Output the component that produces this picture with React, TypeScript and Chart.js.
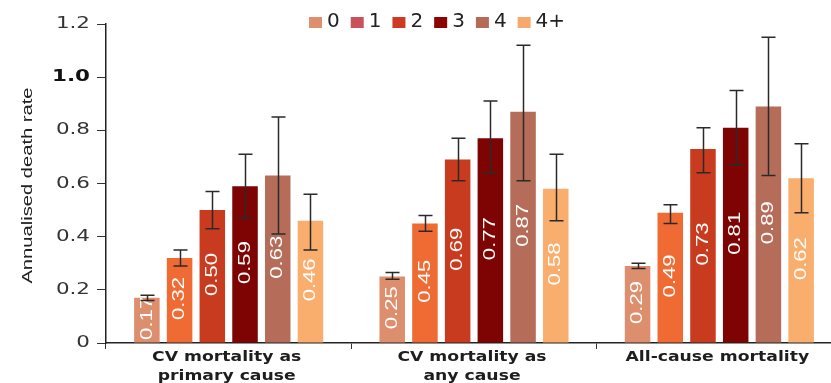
import React, { useEffect, useRef } from "react";
import { Chart, registerables } from "chart.js";
Chart.register(...registerables);

const categories: string[][] = [
  ["CV mortality as", "primary cause"],
  ["CV mortality as", "any cause"],
  ["All-cause mortality"],
];
const seriesNames = ["0", "1", "2", "3", "4", "4+"];
const barColors = ["#dd8e6d", "#f06b34", "#c93b1f", "#7e0404", "#b56d5a", "#f9ae6d"];
const legendColors = ["#de8f6d", "#c9515a", "#cf3a22", "#8a0404", "#b46a55", "#f6a96a"];

const values0 = [0.17, 0.25, 0.29];
const values1 = [0.32, 0.45, 0.49];
const values2 = [0.5, 0.69, 0.73];
const values3 = [0.59, 0.77, 0.81];
const values4 = [0.63, 0.87, 0.89];
const values4p = [0.46, 0.58, 0.62];

const low0 = [0.16, 0.24, 0.28];
const high0 = [0.18, 0.265, 0.3];
const low1 = [0.29, 0.42, 0.45];
const high1 = [0.35, 0.48, 0.52];
const low2 = [0.43, 0.61, 0.64];
const high2 = [0.57, 0.77, 0.81];
const low3 = [0.47, 0.64, 0.67];
const high3 = [0.71, 0.91, 0.95];
const low4 = [0.41, 0.61, 0.63];
const high4 = [0.85, 1.12, 1.15];
const low4p = [0.35, 0.46, 0.49];
const high4p = [0.56, 0.71, 0.75];

const yTickValues = [0, 0.2, 0.4, 0.6, 0.8, 1.0, 1.2];
const yTickLabels = ["0", "0.2", "0.4", "0.6", "0.8", "1.0", "1.2"];
const yTitle = "Annualised death rate";

const seriesValues = [values0, values1, values2, values3, values4, values4p];
const seriesLow = [low0, low1, low2, low3, low4, low4p];
const seriesHigh = [high0, high1, high2, high3, high4, high4p];

function drawText(
  ctx: CanvasRenderingContext2D,
  text: string,
  x: number,
  y: number,
  font: string,
  color: string,
  sx: number,
  sy: number,
  rot: number,
  align: CanvasTextAlign,
  baseline: CanvasTextBaseline
) {
  ctx.save();
  ctx.translate(x, y);
  ctx.rotate(rot);
  ctx.scale(sx, sy);
  ctx.font = font;
  ctx.fillStyle = color;
  ctx.textAlign = align;
  ctx.textBaseline = baseline;
  ctx.fillText(text, 0, 0);
  ctx.restore();
}

const decorPlugin = {
  id: "decor",
  afterDatasetsDraw(chart: any) {
    const ctx: CanvasRenderingContext2D = chart.ctx;
    const yScale = chart.scales.y;
    const xScale = chart.scales.x;
    const area = chart.chartArea;

    // value labels inside bars
    chart.data.datasets.forEach((ds: any, i: number) => {
      const meta = chart.getDatasetMeta(i);
      meta.data.forEach((bar: any, j: number) => {
        const v = ds.data[j];
        const top = yScale.getPixelForValue(v);
        const base = yScale.getPixelForValue(0);
        const cy = (top + base) / 2 - 2;
        drawText(ctx, v.toFixed(2), bar.x, cy, "17px 'Liberation Sans', Arial, sans-serif", "#ffffff", 1.3, 1, -Math.PI / 2, "center", "middle");
      });
    });

    // error bars
    ctx.save();
    ctx.strokeStyle = "#2a2a2a";
    ctx.lineWidth = 1.5;
    chart.data.datasets.forEach((_ds: any, i: number) => {
      const meta = chart.getDatasetMeta(i);
      meta.data.forEach((bar: any, j: number) => {
        const yl = yScale.getPixelForValue(seriesLow[i][j]);
        const yh = yScale.getPixelForValue(seriesHigh[i][j]);
        const x = Math.round(bar.x) + 0.5;
        const cw = 7;
        ctx.beginPath();
        ctx.moveTo(x, yl);
        ctx.lineTo(x, yh);
        ctx.moveTo(x - cw, yh);
        ctx.lineTo(x + cw, yh);
        ctx.moveTo(x - cw, yl);
        ctx.lineTo(x + cw, yl);
        ctx.stroke();
      });
    });
    ctx.restore();

    // y tick labels
    yTickValues.forEach((v, k) => {
      const y = yScale.getPixelForValue(v);
      const bold = yTickLabels[k] === "1.0";
      drawText(
        ctx,
        yTickLabels[k],
        area.left - 16,
        y,
        (bold ? "bold " : "") + "16px 'DejaVu Sans', Verdana, sans-serif",
        bold ? "#111111" : "#333333",
        1.34,
        1,
        0,
        "right",
        "middle"
      );
    });

    // y axis title
    drawText(ctx, yTitle, 28, (area.top + area.bottom) / 2 + 2, "14px 'Liberation Sans', Arial, sans-serif", "#222222", 1.44, 1, -Math.PI / 2, "center", "middle");

    // x category labels
    categories.forEach((lines, k) => {
      const cx = xScale.getPixelForValue(k);
      lines.forEach((line, li) => {
        drawText(ctx, line, cx - 2, area.bottom + 18 + li * 19, "bold 14px 'DejaVu Sans', Verdana, sans-serif", "#1e1e1e", 1.23, 1, 0, "center", "alphabetic");
      });
    });

    // legend
    let lx = 309;
    ctx.save();
    ctx.font = "20px 'DejaVu Sans', Verdana, sans-serif";
    seriesNames.forEach((name, i) => {
      ctx.fillStyle = legendColors[i];
      ctx.fillRect(lx, 17, 13, 11);
      ctx.fillStyle = "#222222";
      ctx.textAlign = "left";
      ctx.textBaseline = "alphabetic";
      ctx.fillText(name, lx + 18, 27);
      lx += 13 + 5 + ctx.measureText(name).width + 11;
    });
    ctx.restore();
  },
};

export default function App() {
  const canvasRef = useRef<HTMLCanvasElement>(null);

  useEffect(() => {
    const canvas = canvasRef.current;
    if (!canvas) return;
    const chart = new Chart(canvas, {
      type: "bar",
      data: {
        labels: categories.map((c) => c.join(" ")),
        datasets: seriesNames.map((name, i) => ({
          label: name,
          data: seriesValues[i],
          backgroundColor: barColors[i],
          borderWidth: 0,
          categoryPercentage: 0.8,
          barPercentage: 0.78,
        })),
      },
      options: {
        responsive: false,
        animation: false,
        devicePixelRatio: 1,
        layout: { padding: { left: 97, top: 24, right: 0, bottom: 34 } },
        plugins: {
          legend: { display: false },
          tooltip: { enabled: false },
        },
        scales: {
          x: {
            offset: true,
            grid: { display: true, drawOnChartArea: false, drawTicks: true, tickLength: 6, color: "#333333", lineWidth: 1, offset: true },
            border: { display: true, color: "#222222", width: 1.5 },
            ticks: { display: false },
          },
          y: {
            min: 0,
            max: 1.2,
            ticks: { display: false, stepSize: 0.2 },
            grid: { display: true, drawOnChartArea: false, drawTicks: true, tickLength: 9, color: "#333333", lineWidth: 1 },
            border: { display: true, color: "#222222", width: 1.5 },
          },
        },
      },
      plugins: [decorPlugin],
    });
    return () => chart.destroy();
  }, []);

  return (
    <div style={{ position: "fixed", left: 0, top: 0, width: 831, height: 383, overflow: "hidden", background: "#ffffff" }}>
      <canvas ref={canvasRef} width={842} height={383} style={{ display: "block" }} />
    </div>
  );
}
